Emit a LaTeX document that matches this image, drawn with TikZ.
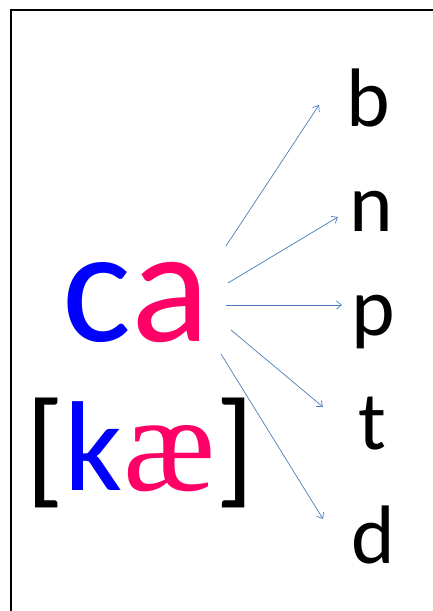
\documentclass[tikz,border=0pt]{standalone}
\usepackage{fontspec}
\setmainfont{Carlito}
\newfontfamily\aefont{Liberation Serif}
\usetikzlibrary{arrows.meta}
\definecolor{cblue}{RGB}{0,0,255}
\definecolor{cpink}{RGB}{255,0,102}
\definecolor{arrblue}{RGB}{74,126,187}

\begin{document}
\begin{tikzpicture}[
  x=1pt, y=-1pt,
  big/.style={inner sep=0pt, anchor=base, font=\fontsize{163}{163}\selectfont},
  ipa/.style={inner sep=0pt, anchor=base, font=\fontsize{128}{128}\selectfont},
  cons/.style={inner sep=0pt, anchor=base, font=\fontsize{83}{83}\selectfont},
  link/.style={draw=arrblue, line width=0.7pt, -{Straight Barb[length=5pt,width=8pt]}},
  frame/.style={line width=2.2pt}
]
\useasboundingbox (0,0) rectangle (432,611);
\draw[frame] (11,612) -- (11,10) -- (433,10);

% word and its pronunciation
\node[big] (ca) at (136,341) {\textcolor{cblue}{c}\textcolor{cpink}{a}};
\node[ipa] (kae) at (140,490) {[\textcolor{cblue}{k}{\aefont\fontsize{138}{138}\selectfont\textcolor{cpink}{æ}}]};

% following consonants
\node[cons] (b) at (368,126) {b};
\node[cons] (n) at (371,231) {n};
\node[cons] (p) at (373,335) {p};
\node[cons] (t) at (372,449) {t};
\node[cons] (d) at (373,563) {d};

\coordinate (s1) at (226,246); \coordinate (e1) at (319,105);
\coordinate (s2) at (228,283); \coordinate (e2) at (338,217);
\coordinate (s3) at (226,305); \coordinate (e3) at (342,305);
\coordinate (s4) at (231,330); \coordinate (e4) at (323,407);
\coordinate (s5) at (221,354); \coordinate (e5) at (323,519);
\foreach \i in {1,...,5}
  \draw[link] (s\i) -- (e\i);
\end{tikzpicture}
\end{document}
